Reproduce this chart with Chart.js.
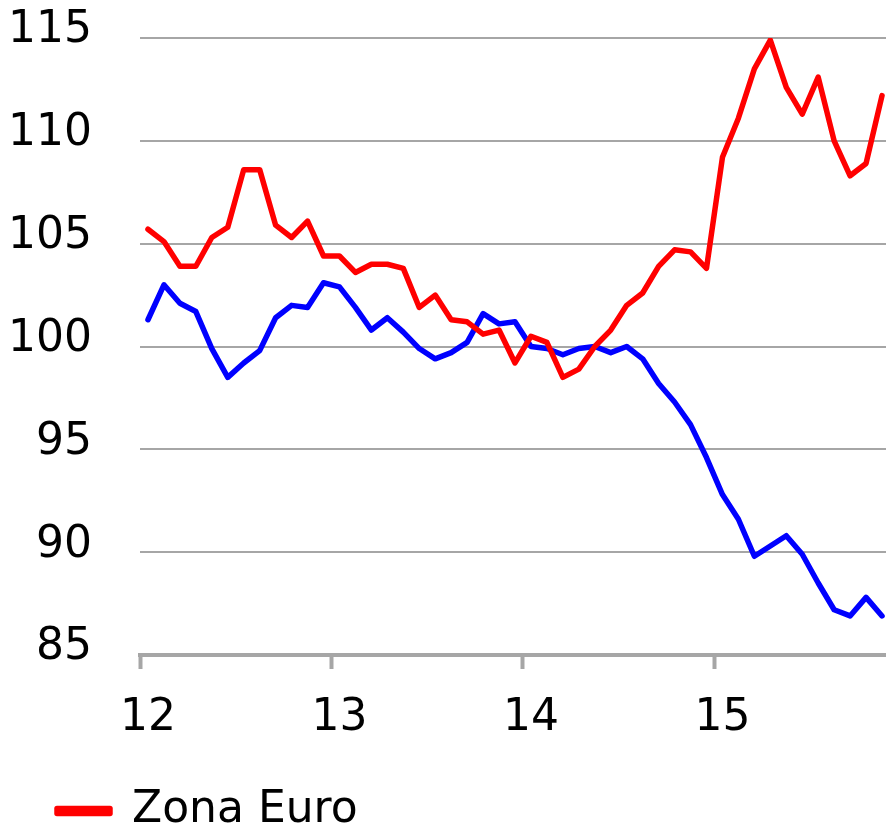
<!DOCTYPE html>
<html>
<head>
<meta charset="utf-8">
<script src="https://cdn.jsdelivr.net/npm/chart.js@4.4.1/dist/chart.umd.min.js"></script>
<style>
  html, body { margin: 0; padding: 0; background: #ffffff; overflow: hidden; }
  #wrap { width: 886px; height: 843px; overflow: hidden; }
</style>
</head>
<body>
<div id="wrap"><canvas id="c" width="890" height="843"></canvas></div>
<script>
// Months Jan 2012 .. Nov 2015
const categories = [
  "2012-01","2012-02","2012-03","2012-04","2012-05","2012-06","2012-07","2012-08","2012-09","2012-10","2012-11","2012-12",
  "2013-01","2013-02","2013-03","2013-04","2013-05","2013-06","2013-07","2013-08","2013-09","2013-10","2013-11","2013-12",
  "2014-01","2014-02","2014-03","2014-04","2014-05","2014-06","2014-07","2014-08","2014-09","2014-10","2014-11","2014-12",
  "2015-01","2015-02","2015-03","2015-04","2015-05","2015-06","2015-07","2015-08","2015-09","2015-10","2015-11"
];
const yearTickLabels = ["12", "13", "14", "15"];

const zonaEuro = [
  105.7, 105.1, 103.9, 103.9, 105.3, 105.8, 108.6, 108.6, 105.9, 105.3, 106.1, 104.4,
  104.4, 103.6, 104.0, 104.0, 103.8, 101.9, 102.5, 101.3, 101.2, 100.6, 100.8, 99.2,
  100.5, 100.2, 98.5, 98.9, 100.0, 100.8, 102.0, 102.6, 103.9, 104.7, 104.6, 103.8,
  109.2, 111.1, 113.5, 114.9, 112.6, 111.3, 113.1, 110.0, 108.3, 108.9, 112.2
];
const serie2 = [
  101.3, 103.0, 102.1, 101.7, 99.9, 98.5, 99.2, 99.8, 101.4, 102.0, 101.9, 103.1,
  102.9, 101.9, 100.8, 101.4, 100.7, 99.9, 99.4, 99.7, 100.2, 101.6, 101.1, 101.2,
  100.0, 99.9, 99.6, 99.9, 100.0, 99.7, 100.0, 99.4, 98.2, 97.3, 96.2, 94.6,
  92.8, 91.6, 89.8, 90.3, 90.8, 89.9, 88.5, 87.2, 86.9, 87.8, 86.9
];

const FONT = "'DejaVu Sans', 'Noto Sans', sans-serif";
const GRID = "#a6a6a6";
const PAD_LEFT = 9;

new Chart(document.getElementById("c"), {
  type: "line",
  data: {
    labels: categories,
    datasets: [
      {
        label: "Zona Euro",
        data: zonaEuro,
        borderColor: "#ff0000",
        backgroundColor: "#ff0000",
        borderWidth: 5.5,
        pointRadius: 0,
        tension: 0,
        borderJoinStyle: "round",
        borderCapStyle: "round"
      },
      {
        label: "",
        data: serie2,
        borderColor: "#0000ff",
        backgroundColor: "#0000ff",
        borderWidth: 5.5,
        pointRadius: 0,
        tension: 0,
        borderJoinStyle: "round",
        borderCapStyle: "round"
      }
    ]
  },
  options: {
    responsive: false,
    animation: false,
    devicePixelRatio: 1,
    layout: { padding: { top: 38, left: PAD_LEFT, right: 0, bottom: 0 } },
    plugins: {
      tooltip: { enabled: false },
      legend: {
        display: true,
        position: "bottom",
        align: "start",
        labels: {
          filter: (item) => item.datasetIndex === 0,
          boxWidth: 53,
          boxHeight: 5,
          padding: 48,
          color: "#000000",
          font: { family: FONT, size: 44 }
        }
      }
    },
    scales: {
      x: {
        type: "category",
        offset: true,
        grid: {
          offset: true,
          drawOnChartArea: false,
          drawTicks: true,
          tickLength: 14,
          tickWidth: 4,
          tickColor: (ctx) => (ctx.index % 12 === 0 ? GRID : "rgba(0,0,0,0)")
        },
        border: { display: true, color: GRID, width: 4 },
        ticks: {
          autoSkip: false,
          maxRotation: 0,
          minRotation: 0,
          padding: 28,
          color: "#000000",
          font: { family: FONT, size: 44, lineHeight: 1.0 },
          callback: function (value, index) {
            return index % 12 === 0 ? yearTickLabels[index / 12] : "";
          }
        },
        afterFit: (scale) => {
          scale.height = 86;
          scale.paddingLeft = 0;
          scale.paddingRight = 0;
        }
      },
      y: {
        min: 85,
        max: 115,
        grid: { color: GRID, lineWidth: 2, drawTicks: false },
        border: { display: false },
        ticks: {
          stepSize: 5,
          padding: 48,
          labelOffset: -7,
          color: "#000000",
          font: { family: FONT, size: 44 }
        },
        afterFit: (scale) => {
          scale.width = 140 - PAD_LEFT;
          scale.paddingTop = 0;
          scale.paddingBottom = 0;
        }
      }
    }
  }
});
</script>
</body>
</html>
